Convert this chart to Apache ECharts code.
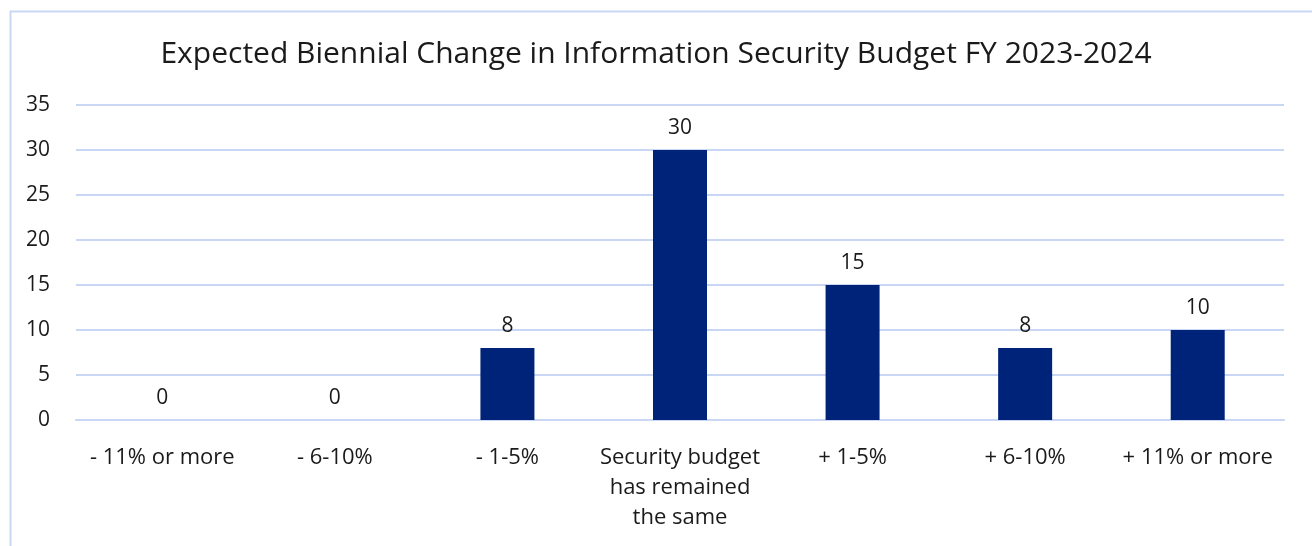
<!DOCTYPE html>
<html>
<head>
<meta charset="utf-8">
<style>
  html, body { margin: 0; padding: 0; background: #ffffff; }
  #chart { width: 1312px; height: 546px; }
</style>
<script src="https://cdn.jsdelivr.net/npm/echarts@6/dist/echarts.min.js"></script>
</head>
<body>
<div id="chart"></div>
<script>
// Survey responses: expected biennial change in the security budget
const categories = [
  '- 11% or more',
  '- 6-10%',
  '- 1-5%',
  'Security budget\nhas remained\nthe same',
  '+ 1-5%',
  '+ 6-10%',
  '+ 11% or more'
];
const responses = [0, 0, 8, 30, 15, 8, 10];
const yTicks = [0, 5, 10, 15, 20, 25, 30, 35];

const FONT = '"Open Sans", "Noto Sans", sans-serif';
const TEXT = '#1a1a1a';

const chart = echarts.init(document.getElementById('chart'), null, { renderer: 'canvas' });
chart.setOption({
  backgroundColor: '#ffffff',
  animation: false,
  graphic: [{
    type: 'rect',
    left: 8, top: 9,
    shape: { width: 1400, height: 600 },
    style: { fill: 'none', stroke: '#c9d7f4', lineWidth: 2 },
    silent: true, z: -1
  }],
  title: {
    text: 'Expected Biennial Change in Information Security Budget FY 2023-2024',
    left: 'center',
    top: 29,
    textStyle: { fontFamily: FONT, fontSize: 30, fontWeight: 'normal', color: TEXT, lineHeight: 40 }
  },
  grid: { left: 76, right: 28, top: 105, bottom: 126, containLabel: false },
  xAxis: {
    type: 'category',
    data: categories,
    axisLine: { show: true, lineStyle: { color: '#c9d7f4', width: 2 } },
    axisTick: { show: false },
    axisLabel: {
      interval: 0, margin: 23,
      fontFamily: FONT, fontSize: 22, color: TEXT, lineHeight: 30
    }
  },
  yAxis: {
    type: 'value',
    min: yTicks[0],
    max: yTicks[yTicks.length - 1],
    interval: 5,
    axisLine: { show: false },
    axisTick: { show: false },
    splitLine: { lineStyle: { color: '#c9d7f4', width: 2 } },
    axisLabel: { margin: 26, fontFamily: FONT, fontSize: 21, color: TEXT }
  },
  series: [{
    type: 'bar',
    data: responses,
    barWidth: 54,
    itemStyle: { color: '#00237a' },
    label: {
      show: true, position: 'top', distance: 10, lineHeight: 24,
      fontFamily: FONT, fontSize: 21, color: TEXT
    }
  }]
});
</script>
</body>
</html>
